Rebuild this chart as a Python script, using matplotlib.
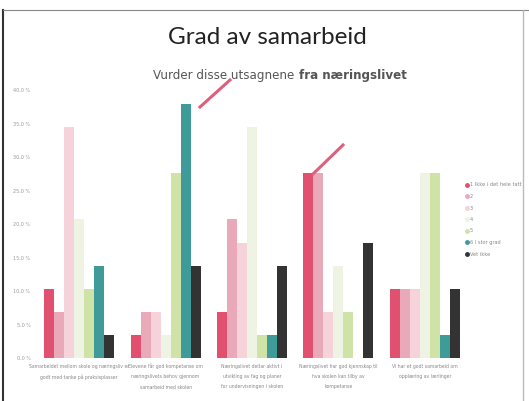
import numpy as np
import matplotlib.pyplot as plt
from matplotlib.lines import Line2D

# Data (share of respondents, n = 29)
categories = [
    "Samarbeidet mellom skole og næringsliv er\ngodt med tanke på praksisplasser",
    "Elevene får god kompetanse om\nnæringslivets behov gjennom\nsamarbeid med skolen",
    "Næringslivet deltar aktivt i\nutvikling av fag og planer\nfor undervisningen i skolen",
    "Næringslivet har god kjennskap til\nhva skolen kan tilby av\nkompetanse",
    "Vi har et godt samarbeid om\nopplæring av lærlinger",
]
series_names = ["1 Ikke i det hele tatt", "2", "3", "4", "5", "6 I stor grad", "Vet ikke"]
s1 = [10.3, 3.4, 6.9, 27.6, 10.3]
s2 = [6.9, 6.9, 20.7, 27.6, 10.3]
s3 = [34.5, 6.9, 17.2, 6.9, 10.3]
s4 = [20.7, 3.4, 34.5, 13.8, 27.6]
s5 = [10.3, 27.6, 3.4, 6.9, 27.6]
s6 = [13.8, 37.9, 3.4, 0.0, 3.4]
s7 = [3.4, 13.8, 13.8, 17.2, 10.3]
series = [s1, s2, s3, s4, s5, s6, s7]
colors = ["#e2506f", "#e9a9b8", "#f6d2da", "#eef3e4", "#cfe3a6", "#3f9a9a", "#333333"]
yticks = [0, 5, 10, 15, 20, 25, 30, 35, 40]

fig = plt.figure(figsize=(5.29, 4.01), dpi=100)
ax = fig.add_axes([36 / 529, 1 - 358 / 401, 432 / 529, 268 / 401])

x = np.arange(len(categories))
w = 0.81 / len(series)
for i, (vals, c, name) in enumerate(zip(series, colors, series_names)):
    ax.bar(x - 0.405 + w * (i + 0.5), vals, width=w, color=c, label=name)

ax.set_ylim(0, 40)
ax.set_xlim(-0.5, 4.5)
ax.set_yticks(yticks)
ax.set_yticklabels([("%.1f %%" % t).replace(".", ",") for t in yticks],
                   fontsize=3.5, color="#999999")
ax.set_xticks(x)
ax.set_xticklabels(categories, fontsize=3.3, color="#888888", linespacing=2.3)
ax.tick_params(length=0, pad=4)
for s in ax.spines.values():
    s.set_visible(False)

handles = [Line2D([], [], marker="o", ls="", color=c, markersize=2.5) for c in colors]
fig.legend(handles, series_names, loc="upper left", bbox_to_anchor=(460 / 529, 1 - 178 / 401),
           frameon=False, fontsize=3.6, labelcolor="#888888", handletextpad=0.2,
           labelspacing=1.3, handlelength=0.8)

# titles
fig.text(267 / 529, 1 - 37 / 401, "Grad av samarbeid", ha="center", va="center",
         fontsize=17.5, family="Lato", color="#222222")
fig.text(298 / 529, 1 - 75 / 401, "Vurder disse utsagnene ", ha="right", va="center",
         fontsize=8.6, color="#555555")
fig.text(299 / 529, 1 - 75 / 401, "fra næringslivet", ha="left", va="center",
         fontsize=8.6, color="#555555", weight="bold")

# pink arrows drawn on the scanned slide
fig.add_artist(Line2D([200 / 529, 230 / 529], [1 - 107 / 401, 1 - 80 / 401],
                      color="#e0607c", lw=2.2))
fig.add_artist(Line2D([313 / 529, 343 / 529], [1 - 174 / 401, 1 - 145 / 401],
                      color="#e0607c", lw=2.2))

# slide border
fig.add_artist(Line2D([3 / 529, 3 / 529], [0, 1 - 10 / 401], color="#333333", lw=1.5))
fig.add_artist(Line2D([3 / 529, 1], [1 - 10 / 401, 1 - 10 / 401], color="#888888", lw=0.8))
fig.add_artist(Line2D([523 / 529, 523 / 529], [0, 1 - 10 / 401], color="#bbbbbb", lw=1.0))

fig.savefig("out.png", dpi=100)
